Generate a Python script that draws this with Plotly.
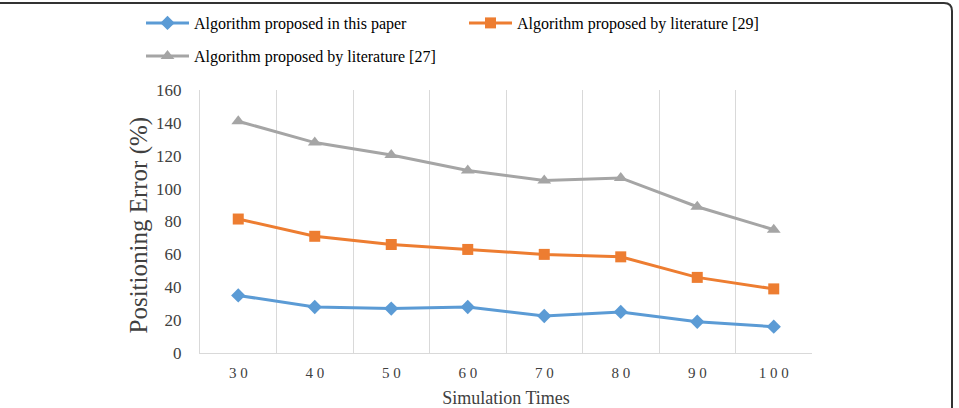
import plotly.graph_objects as go

categories = ["30", "40", "50", "60", "70", "80", "90", "100"]
tick_labels = [" ".join(c) for c in categories]
y_ticks = [0, 20, 40, 60, 80, 100, 120, 140, 160]

this_paper = [35, 28, 27, 28, 22.5, 25, 19, 16]
lit29 = [81.5, 71, 66, 63, 60, 58.5, 46, 39]
lit27 = [141, 128, 120.5, 111, 105, 106.5, 89, 75]

names = ["Algorithm proposed in this paper",
         "Algorithm proposed by literature [29]",
         "Algorithm proposed by literature [27]"]
colors = ["#5B9BD5", "#ED7D31", "#A5A5A5"]
symbols = ["diamond", "square", "triangle-up"]
sizes = [11, 11, 12]
legends = ["legend", "legend", "legend2"]

W, H = 959, 408
L, R, T, B = 200, 147, 90, 55

fig = go.Figure()
for ys, n, c, s, sz, lg in zip([this_paper, lit29, lit27], names, colors, symbols, sizes, legends):
    fig.add_trace(go.Scatter(
        x=categories, y=ys, name=n, mode="lines+markers",
        line=dict(color=c, width=3),
        marker=dict(symbol=s, size=sz, color=c),
        legend=lg,
    ))

font = "Liberation Serif, Times New Roman, serif"

def px2paper_x(px):
    return (px - L) / (W - L - R)

def px2paper_y(py):
    return (H - B - py) / (H - T - B)

# outer frame (top line + rounded top-right corner + right line)
x0 = px2paper_x(0)
x1 = px2paper_x(944)
x2 = px2paper_x(952)
ytop = px2paper_y(3)
ycorner = px2paper_y(11)
ybot = px2paper_y(410)
frame_path = f"M{x0},{ytop} L{x1},{ytop} Q{x2},{ytop} {x2},{ycorner} L{x2},{ybot}"

fig.update_layout(
    width=W, height=H,
    margin=dict(l=L, r=R, t=T, b=B, autoexpand=False),
    paper_bgcolor="white", plot_bgcolor="white",
    font=dict(family=font, color="#404040", size=16),
    showlegend=True,
    legend=dict(orientation="h", x=px2paper_x(141), y=px2paper_y(6),
                xanchor="left", yanchor="top", itemwidth=43, entrywidth=265,
                font=dict(family=font, size=16, color="#000000"),
                bgcolor="rgba(0,0,0,0)"),
    legend2=dict(orientation="h", x=px2paper_x(141), y=px2paper_y(39),
                 xanchor="left", yanchor="top", itemwidth=43,
                 font=dict(family=font, size=16, color="#000000"),
                 bgcolor="rgba(0,0,0,0)"),
    xaxis=dict(
        type="category", range=[-0.5, 7.5],
        tickmode="array", tickvals=categories, ticktext=tick_labels,
        tickson="boundaries", ticks="", showgrid=True, gridcolor="#D9D9D9", gridwidth=1,
        showline=True, linecolor="#D9D9D9", linewidth=1,
        ticklabelstandoff=6, automargin=False,
        tickfont=dict(family=font, size=15, color="#404040"),
        title=dict(text="Simulation Times", font=dict(family=font, size=18, color="#404040"), standoff=12),
        zeroline=False, fixedrange=True,
    ),
    yaxis=dict(
        range=[0, 160], tickvals=y_ticks, showgrid=False,
        showline=True, linecolor="#D9D9D9", linewidth=1, ticks="",
        ticklabelstandoff=14, automargin=False,
        tickfont=dict(family=font, size=17, color="#404040"),
        zeroline=False, fixedrange=True,
    ),
    annotations=[dict(text="Positioning Error (%)", textangle=-90, showarrow=False,
                      xref="paper", yref="paper", x=px2paper_x(138), y=px2paper_y(225.5),
                      xanchor="center", yanchor="middle",
                      font=dict(family=font, size=25, color="#404040"))],
    shapes=[dict(type="path", path=frame_path, xref="paper", yref="paper",
                 line=dict(color="#333333", width=2))],
)

fig.write_html("out.html")
